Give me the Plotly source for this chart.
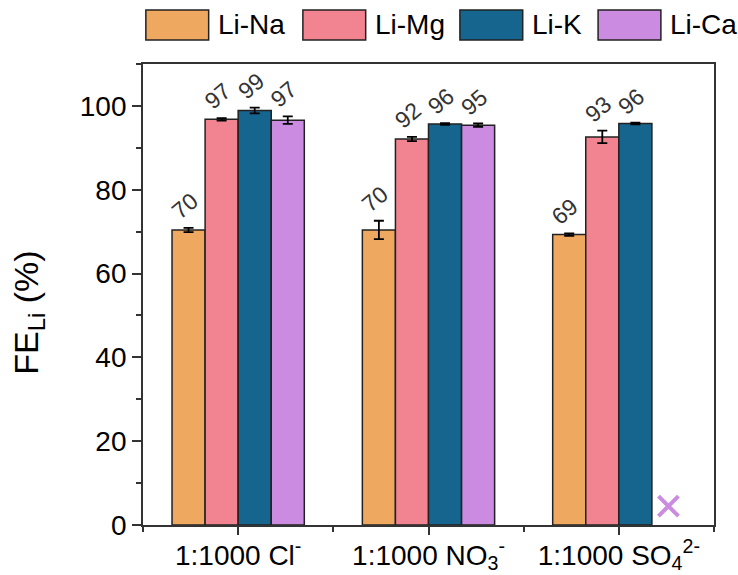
import plotly.graph_objects as go

categories = ["1:1000 Cl<sup>-</sup>", "1:1000 NO<sub>3</sub><sup>-</sup>", "1:1000 SO<sub>4</sub><sup>2-</sup>"]
series_names = ["Li-Na", "Li-Mg", "Li-K", "Li-Ca"]
colors = ["#EFA860", "#F28491", "#16658F", "#CA8BE0"]

li_na = [70.4, 70.4, 69.3]
li_mg = [96.8, 92.1, 92.6]
li_k = [98.9, 95.7, 95.8]
li_ca = [96.6, 95.4, None]

li_na_err = [0.5, 2.2, 0.3]
li_mg_err = [0.3, 0.5, 1.5]
li_k_err = [0.7, 0.2, 0.2]
li_ca_err = [0.9, 0.4, None]

values = [li_na, li_mg, li_k, li_ca]
errors = [li_na_err, li_mg_err, li_k_err, li_ca_err]

# Li-Ca in SO4 case: not measured (marked with a cross)
missing_marker_value = [4.5]

FONT = "Arial, Liberation Sans, sans-serif"
group_width = 0.695
n = len(series_names)
bw = group_width / n
xs = list(range(len(categories)))

fig = go.Figure()
for i, (name, vals, errs, col) in enumerate(zip(series_names, values, errors, colors)):
    fig.add_trace(go.Bar(
        x=xs, y=vals, name=name,
        marker=dict(color=col, line=dict(color="#222222", width=1.5)),
        error_y=dict(type="data", array=[e if e is not None else 0 for e in errs],
                     color="black", thickness=1.8, width=5),
        showlegend=False,
    ))

# cross marker for missing Li-Ca in SO4 group
fig.add_trace(go.Scatter(
    x=[2 + (3 - (n - 1) / 2) * bw], y=missing_marker_value, mode="markers",
    marker=dict(symbol="x-thin", size=20, line=dict(width=4, color=colors[3])),
    showlegend=False, hoverinfo="skip",
))

# value labels
for i, (vals, errs) in enumerate(zip(values, errors)):
    for j, (v, e) in enumerate(zip(vals, errs)):
        if v is None:
            continue
        fig.add_annotation(
            x=j + (i - (n - 1) / 2) * bw, y=v + e, xref="x", yref="y",
            text=f"{int(v + 0.5):d}", showarrow=False, textangle=-40,
            font=dict(family=FONT, size=23, color="#333333"),
            xanchor="center", yanchor="middle", yshift=22, xshift=-4,
        )

# manual legend with large boxes
leg_x = [0.005, 0.28, 0.555, 0.797]
for name, col, lx in zip(series_names, colors, leg_x):
    fig.add_shape(type="rect", xref="paper", yref="paper",
                  x0=lx, x1=lx + 0.11, y0=1.052, y1=1.117,
                  fillcolor=col, line=dict(color="#222222", width=1.5))
    fig.add_annotation(xref="paper", yref="paper", x=lx + 0.122, y=1.085,
                       text=name, showarrow=False, xanchor="left", yanchor="middle",
                       font=dict(family=FONT, size=28, color="black"))

# y-axis title as rotated annotation
fig.add_annotation(xref="paper", yref="paper", x=-0.2, y=0.46,
                   text="FE<sub>Li</sub> (%)", showarrow=False, textangle=-90,
                   xanchor="center", yanchor="middle",
                   font=dict(family=FONT, size=34, color="black"))

axis_common = dict(showline=True, linecolor="#333333", linewidth=1.8, mirror=True,
                   ticks="outside", tickcolor="#333333", tickwidth=1.5,
                   showgrid=False, zeroline=False, automargin=False,
                   tickfont=dict(family=FONT, size=28, color="black"))

fig.update_layout(
    width=738, height=575,
    margin=dict(l=143, r=24, t=64, b=50),
    paper_bgcolor="white", plot_bgcolor="white",
    barmode="group", bargap=1 - group_width, bargroupgap=0,
    xaxis=dict(range=[-0.5, 2.5], tickmode="array", tickvals=xs, ticktext=categories,
               ticklen=8, ticklabelstandoff=-4,
               minor=dict(tickmode="array", tickvals=[-0.5, 0.5, 1.5, 2.5],
                          ticks="outside", ticklen=5, tickcolor="#333333", tickwidth=1.5),
               **axis_common),
    yaxis=dict(range=[0, 110], tickmode="linear", tick0=0, dtick=20, ticklen=9,
               minor=dict(tick0=10, dtick=20, ticks="outside", ticklen=5,
                          tickcolor="#333333", tickwidth=1.5),
               **axis_common),
    font=dict(family=FONT),
)

fig.write_html("out.html")
